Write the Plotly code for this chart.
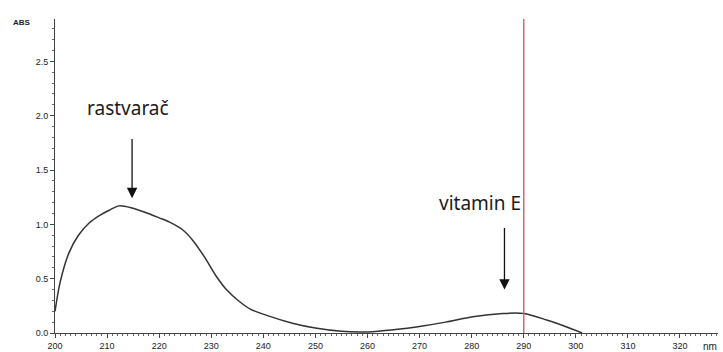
import plotly.graph_objects as go

wavelength = [200, 201, 202.7, 204.5, 206.5, 208.5, 210.4, 212.3, 214.8, 217.9, 220, 222,
              224.5, 226.5, 228.7, 231, 232.9, 235.4, 237.5, 240.8, 245.6, 250, 255, 260, 265,
              270.6, 275, 280.2, 286, 290, 294.4, 298, 301.2]
absorbance = [0.2, 0.47, 0.74, 0.9, 1.01, 1.08, 1.13, 1.17, 1.15, 1.10, 1.06, 1.02,
              0.95, 0.85, 0.70, 0.52, 0.40, 0.29, 0.22, 0.16, 0.09, 0.045, 0.015, 0.01, 0.03,
              0.065, 0.10, 0.15, 0.18, 0.18, 0.12, 0.06, 0.0]
x_ticks = [200, 210, 220, 230, 240, 250, 260, 270, 280, 290, 300, 310, 320]
y_ticks = [0.0, 0.5, 1.0, 1.5, 2.0, 2.5]
marker_wl = 290
labels = ["rastvarač", "vitamin E"]
label_x = [214.8, 286.3]

fig = go.Figure()
fig.add_trace(go.Scatter(x=wavelength, y=absorbance, mode="lines",
                         line=dict(color="#333333", width=1.5, shape="spline", smoothing=0.8),
                         hoverinfo="skip", showlegend=False))

fig.add_shape(type="line", x0=marker_wl, x1=marker_wl, y0=0, y1=2.89, xref="x", yref="y",
              line=dict(color="rgb(220,100,100)", width=1.5))

annots = [
    dict(x=label_x[0], y=1.24, ax=label_x[0], ay=1.8, xref="x", yref="y",
         axref="x", ayref="y", showarrow=True, arrowhead=2, arrowsize=1.6,
         arrowwidth=1.3, arrowcolor="#111111", text=""),
    dict(x=label_x[1], y=0.40, ax=label_x[1], ay=0.98, xref="x", yref="y",
         axref="x", ayref="y", showarrow=True, arrowhead=2, arrowsize=1.6,
         arrowwidth=1.3, arrowcolor="#111111", text=""),
    dict(x=214.0, y=2.07, xref="x", yref="y", text=labels[0], showarrow=False,
         font=dict(family="Noto Sans", size=19, color="#1a1a1a")),
    dict(x=281.6, y=1.20, xref="x", yref="y", text=labels[1], showarrow=False,
         font=dict(family="Noto Sans", size=19, color="#1a1a1a")),
    dict(x=-0.05, y=0.99, xref="paper", yref="paper", yanchor="middle", xanchor="center",
         text="<b>ABS</b>", showarrow=False,
         font=dict(family="Liberation Sans", size=8, color="#222222")),
]

fig.update_layout(
    width=723, height=352,
    margin=dict(l=55, r=5, t=19, b=19),
    paper_bgcolor="white", plot_bgcolor="white",
    annotations=annots,
    title=dict(text="nm", xref="container", yref="container", x=0.982, y=0.015,
               xanchor="center", yanchor="middle",
               font=dict(family="Liberation Sans", size=10, color="#222222")),
    xaxis=dict(range=[200, 327.3], tickvals=x_ticks, ticks="outside", ticklen=4,
               tickcolor="#444", showline=True, linecolor="#444", linewidth=1,
               showgrid=False, zeroline=False, automargin=False,
               tickfont=dict(family="Liberation Sans", size=9, color="#222"),
               minor=dict(dtick=1, ticks="outside", ticklen=2, tickcolor="#666")),
    yaxis=dict(range=[0, 2.89], tickvals=y_ticks, tickformat=".1f", ticks="outside",
               ticklen=4, tickcolor="#444", showline=True, linecolor="#444", linewidth=1,
               showgrid=False, zeroline=False, automargin=False,
               tickfont=dict(family="Liberation Sans", size=9, color="#222"),
               minor=dict(dtick=0.1, ticks="outside", ticklen=2, tickcolor="#666")),
)

fig.write_html("out.html", config={"displayModeBar": False},
               post_script="document.body.style.margin='0';document.body.style.overflow='hidden';")
